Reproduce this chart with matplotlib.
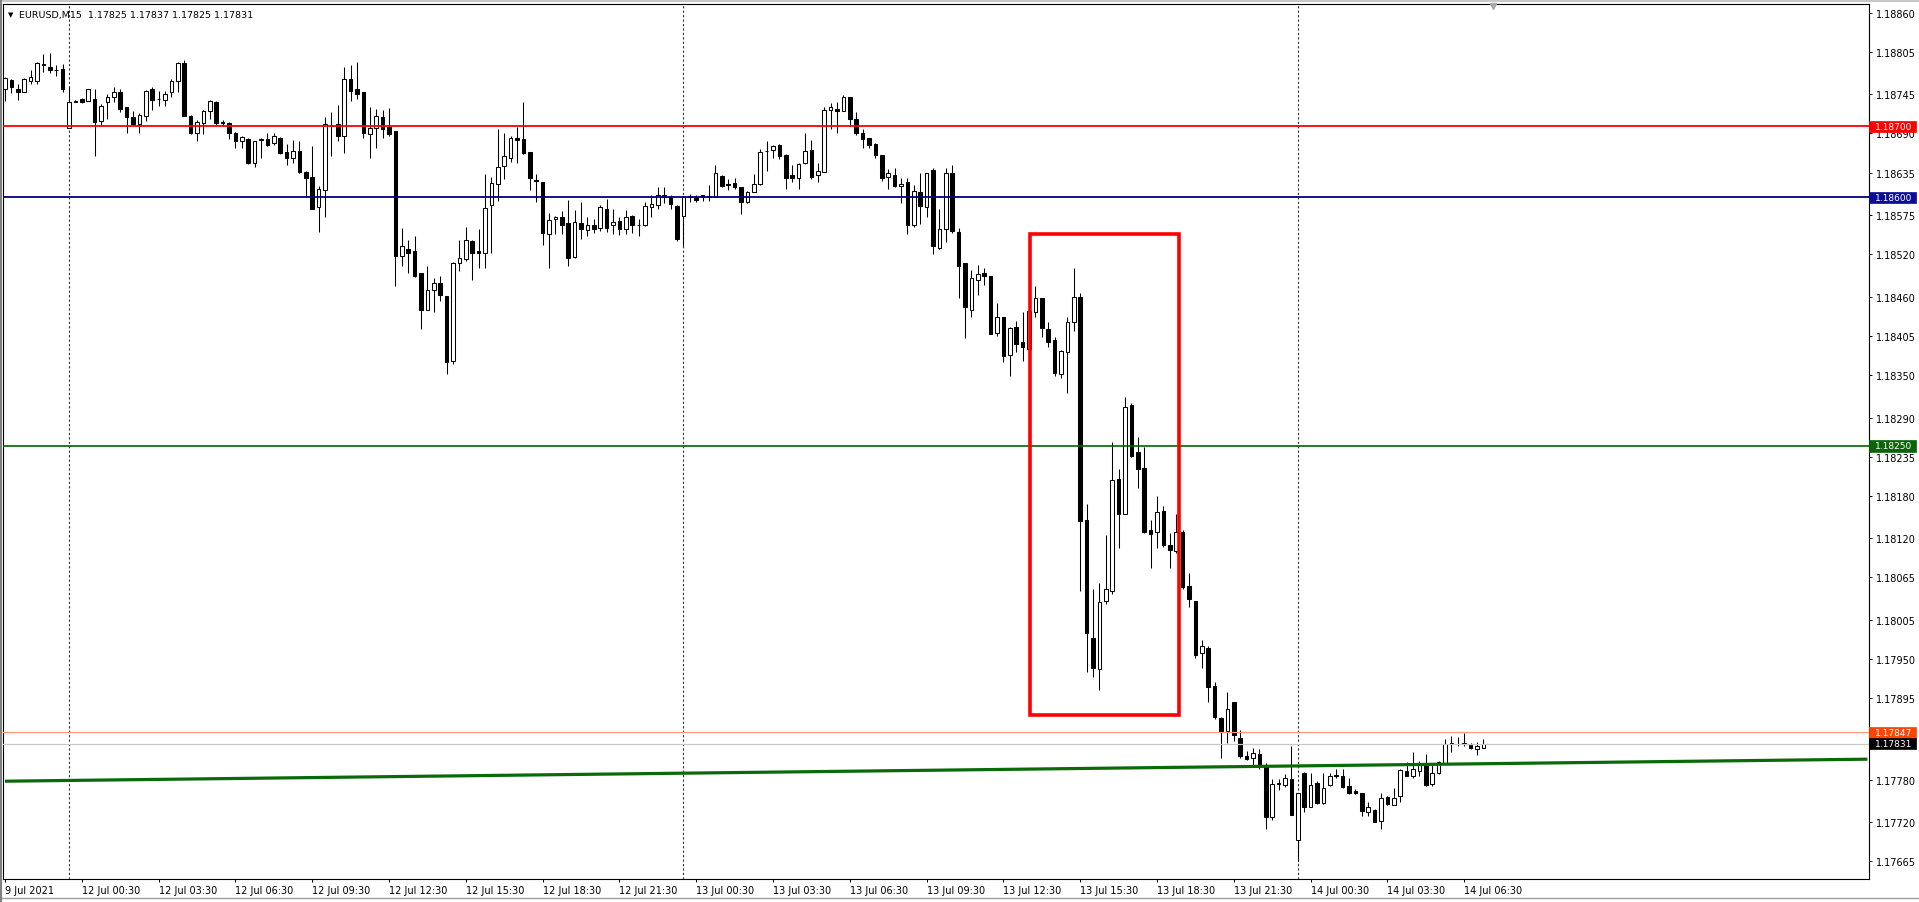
import matplotlib
matplotlib.use('Agg')
import matplotlib.pyplot as plt
import matplotlib.transforms as mtransforms
from matplotlib.patches import Rectangle
import pandas as pd

plt.rcParams['font.family'] = ['DejaVu Sans']

# EURUSD M15 candles
opens = [1.18752, 1.18765, 1.18753, 1.18748, 1.18764, 1.18764, 1.18788, 1.18784, 1.18780, 1.18781,
         1.18698, 1.18735, 1.18738, 1.18736, 1.18738, 1.18708, 1.18734, 1.18741, 1.18749, 1.18727,
         1.18713, 1.18703, 1.18714, 1.18753, 1.18738, 1.18737, 1.18748, 1.18764, 1.18789, 1.18715,
         1.18690, 1.18705, 1.18722, 1.18735, 1.18706, 1.18705, 1.18691, 1.18679, 1.18682, 1.18648,
         1.18681, 1.18682, 1.18676, 1.18684, 1.18664, 1.18655, 1.18666, 1.18636, 1.18629, 1.18587,
         1.18611, 1.18702, 1.18703, 1.18687, 1.18766, 1.18753, 1.18748, 1.18689, 1.18698, 1.18713,
         1.18699, 1.18693, 1.18518, 1.18528, 1.18525, 1.18493, 1.18442, 1.18470, 1.18480, 1.18461,
         1.18369, 1.18507, 1.18513, 1.18539, 1.18525, 1.18522, 1.18589, 1.18619, 1.18644, 1.18656,
         1.18683, 1.18682, 1.18664, 1.18624, 1.18621, 1.18549, 1.18569, 1.18573, 1.18564, 1.18516,
         1.18564, 1.18554, 1.18561, 1.18557, 1.18584, 1.18561, 1.18567, 1.18556, 1.18574, 1.18561,
         1.18561, 1.18587, 1.18589, 1.18603, 1.18600, 1.18588, 1.18574, 1.18600, 1.18600, 1.18603,
         1.18601, 1.18601, 1.18630, 1.18619, 1.18620, 1.18614, 1.18593, 1.18608, 1.18619, 1.18665,
         1.18667, 1.18674, 1.18660, 1.18631, 1.18627, 1.18648, 1.18667, 1.18632, 1.18636, 1.18723,
         1.18725, 1.18722, 1.18742, 1.18710, 1.18691, 1.18683, 1.18675, 1.18659, 1.18629, 1.18632,
         1.18616, 1.18621, 1.18561, 1.18608, 1.18587, 1.18639, 1.18529, 1.18555, 1.18634, 1.18551,
         1.18507, 1.18442, 1.18484, 1.18493, 1.18489, 1.18409, 1.18432, 1.18378, 1.18417, 1.18396,
         1.18387, 1.18439, 1.18458, 1.18414, 1.18399, 1.18352, 1.18383, 1.18425, 1.18460, 1.18146,
         1.17979, 1.17936, 1.18032, 1.18046, 1.18204, 1.18154, 1.18308, 1.18241, 1.18219, 1.18131,
         1.18129, 1.18159, 1.18111, 1.18102, 1.18129, 1.18053, 1.18032, 1.17959, 1.17966, 1.17912,
         1.17867, 1.17849, 1.17889, 1.17839, 1.17813, 1.17810, 1.17817, 1.17800, 1.17727, 1.17774,
         1.17772, 1.17781, 1.17695, 1.17790, 1.17742, 1.17775, 1.17747, 1.17772, 1.17786, 1.17786,
         1.17771, 1.17764, 1.17762, 1.17735, 1.17738, 1.17722, 1.17756, 1.17745, 1.17757, 1.17793,
         1.17786, 1.17793, 1.17804, 1.17774, 1.17789, 1.17804, 1.17831, 1.17831, 1.17832, 1.17830,
         1.17824, 1.17825]
highs = [1.18769, 1.18767, 1.18760, 1.18768, 1.18779, 1.18791, 1.18802, 1.18804, 1.18786, 1.18788,
         1.18756, 1.18737, 1.18740, 1.18753, 1.18752, 1.18731, 1.18745, 1.18756, 1.18753, 1.18727,
         1.18722, 1.18719, 1.18751, 1.18755, 1.18750, 1.18750, 1.18767, 1.18791, 1.18794, 1.18716,
         1.18709, 1.18723, 1.18737, 1.18736, 1.18709, 1.18706, 1.18692, 1.18687, 1.18683, 1.18680,
         1.18684, 1.18690, 1.18691, 1.18685, 1.18675, 1.18681, 1.18680, 1.18637, 1.18673, 1.18616,
         1.18713, 1.18720, 1.18730, 1.18784, 1.18786, 1.18790, 1.18749, 1.18727, 1.18725, 1.18723,
         1.18726, 1.18694, 1.18557, 1.18540, 1.18546, 1.18493, 1.18504, 1.18486, 1.18489, 1.18461,
         1.18509, 1.18540, 1.18559, 1.18540, 1.18556, 1.18633, 1.18629, 1.18696, 1.18690, 1.18687,
         1.18699, 1.18734, 1.18664, 1.18633, 1.18621, 1.18578, 1.18574, 1.18581, 1.18597, 1.18582,
         1.18594, 1.18572, 1.18569, 1.18589, 1.18598, 1.18583, 1.18572, 1.18582, 1.18575, 1.18569,
         1.18593, 1.18604, 1.18614, 1.18614, 1.18604, 1.18589, 1.18602, 1.18605, 1.18604, 1.18604,
         1.18617, 1.18645, 1.18631, 1.18626, 1.18628, 1.18614, 1.18609, 1.18633, 1.18668, 1.18680,
         1.18674, 1.18675, 1.18661, 1.18645, 1.18648, 1.18690, 1.18681, 1.18649, 1.18727, 1.18733,
         1.18734, 1.18744, 1.18742, 1.18720, 1.18697, 1.18684, 1.18676, 1.18659, 1.18640, 1.18641,
         1.18628, 1.18628, 1.18617, 1.18635, 1.18635, 1.18641, 1.18583, 1.18641, 1.18645, 1.18557,
         1.18507, 1.18498, 1.18505, 1.18501, 1.18490, 1.18451, 1.18432, 1.18417, 1.18426, 1.18439,
         1.18445, 1.18475, 1.18459, 1.18425, 1.18404, 1.18385, 1.18432, 1.18501, 1.18465, 1.18168,
         1.18048, 1.18057, 1.18124, 1.18256, 1.18217, 1.18319, 1.18311, 1.18263, 1.18249, 1.18146,
         1.18179, 1.18166, 1.18128, 1.18154, 1.18131, 1.18071, 1.18032, 1.17977, 1.17968, 1.17917,
         1.17869, 1.17903, 1.17889, 1.17850, 1.17821, 1.17825, 1.17824, 1.17803, 1.17781, 1.17781,
         1.17788, 1.17828, 1.17762, 1.17791, 1.17789, 1.17778, 1.17789, 1.17789, 1.17795, 1.17795,
         1.17782, 1.17767, 1.17762, 1.17749, 1.17739, 1.17761, 1.17757, 1.17769, 1.17795, 1.17805,
         1.17819, 1.17807, 1.17817, 1.17803, 1.17807, 1.17837, 1.17841, 1.17840, 1.17846, 1.17832,
         1.17833, 1.17837]
lows = [1.18736, 1.18747, 1.18737, 1.18748, 1.18760, 1.18760, 1.18776, 1.18775, 1.18771, 1.18748,
        1.18698, 1.18734, 1.18733, 1.18736, 1.18658, 1.18701, 1.18710, 1.18734, 1.18720, 1.18690,
        1.18702, 1.18691, 1.18708, 1.18723, 1.18729, 1.18729, 1.18741, 1.18748, 1.18714, 1.18689,
        1.18680, 1.18689, 1.18710, 1.18702, 1.18700, 1.18682, 1.18669, 1.18670, 1.18647, 1.18643,
        1.18656, 1.18673, 1.18674, 1.18661, 1.18645, 1.18649, 1.18635, 1.18600, 1.18584, 1.18551,
        1.18572, 1.18658, 1.18680, 1.18663, 1.18736, 1.18738, 1.18683, 1.18656, 1.18670, 1.18683,
        1.18687, 1.18475, 1.18504, 1.18494, 1.18488, 1.18414, 1.18441, 1.18439, 1.18454, 1.18352,
        1.18365, 1.18496, 1.18510, 1.18483, 1.18501, 1.18501, 1.18522, 1.18595, 1.18626, 1.18650,
        1.18648, 1.18661, 1.18611, 1.18593, 1.18533, 1.18501, 1.18548, 1.18548, 1.18503, 1.18515,
        1.18542, 1.18546, 1.18550, 1.18553, 1.18551, 1.18549, 1.18547, 1.18548, 1.18550, 1.18546,
        1.18560, 1.18572, 1.18583, 1.18592, 1.18584, 1.18539, 1.18532, 1.18593, 1.18594, 1.18595,
        1.18595, 1.18601, 1.18615, 1.18611, 1.18612, 1.18576, 1.18592, 1.18607, 1.18618, 1.18637,
        1.18655, 1.18654, 1.18612, 1.18622, 1.18612, 1.18647, 1.18626, 1.18622, 1.18636, 1.18696,
        1.18690, 1.18721, 1.18701, 1.18688, 1.18670, 1.18670, 1.18656, 1.18623, 1.18612, 1.18614,
        1.18592, 1.18548, 1.18559, 1.18562, 1.18572, 1.18520, 1.18528, 1.18537, 1.18550, 1.18459,
        1.18402, 1.18432, 1.18462, 1.18477, 1.18407, 1.18405, 1.18368, 1.18348, 1.18382, 1.18369,
        1.18386, 1.18432, 1.18403, 1.18390, 1.18348, 1.18346, 1.18324, 1.18412, 1.18046, 1.17932,
        1.17925, 1.17907, 1.18027, 1.18041, 1.18107, 1.18154, 1.18235, 1.18191, 1.18128, 1.18078,
        1.18107, 1.18108, 1.18078, 1.18100, 1.18049, 1.18023, 1.17952, 1.17938, 1.17890, 1.17865,
        1.17810, 1.17832, 1.17835, 1.17810, 1.17808, 1.17800, 1.17795, 1.17711, 1.17724, 1.17766,
        1.17770, 1.17730, 1.17666, 1.17734, 1.17741, 1.17746, 1.17746, 1.17771, 1.17782, 1.17769,
        1.17760, 1.17760, 1.17729, 1.17729, 1.17720, 1.17710, 1.17744, 1.17744, 1.17749, 1.17785,
        1.17783, 1.17785, 1.17771, 1.17771, 1.17788, 1.17803, 1.17819, 1.17827, 1.17828, 1.17823,
        1.17815, 1.17825]
closes = [1.18768, 1.18755, 1.18749, 1.18767, 1.18769, 1.18789, 1.18786, 1.18780, 1.18779, 1.18753,
          1.18735, 1.18736, 1.18735, 1.18752, 1.18706, 1.18728, 1.18741, 1.18748, 1.18725, 1.18713,
          1.18703, 1.18716, 1.18750, 1.18737, 1.18738, 1.18745, 1.18764, 1.18789, 1.18715, 1.18690,
          1.18706, 1.18722, 1.18736, 1.18705, 1.18705, 1.18690, 1.18680, 1.18685, 1.18648, 1.18679,
          1.18682, 1.18674, 1.18686, 1.18663, 1.18656, 1.18665, 1.18636, 1.18627, 1.18584, 1.18612,
          1.18703, 1.18701, 1.18686, 1.18767, 1.18750, 1.18745, 1.18690, 1.18698, 1.18714, 1.18697,
          1.18689, 1.18518, 1.18531, 1.18522, 1.18489, 1.18441, 1.18470, 1.18479, 1.18462, 1.18368,
          1.18508, 1.18514, 1.18540, 1.18522, 1.18522, 1.18585, 1.18620, 1.18643, 1.18658, 1.18683,
          1.18681, 1.18663, 1.18627, 1.18623, 1.18550, 1.18568, 1.18572, 1.18561, 1.18515, 1.18565,
          1.18555, 1.18561, 1.18556, 1.18587, 1.18557, 1.18565, 1.18555, 1.18572, 1.18561, 1.18561,
          1.18588, 1.18590, 1.18604, 1.18601, 1.18590, 1.18542, 1.18601, 1.18602, 1.18597, 1.18601,
          1.18602, 1.18634, 1.18616, 1.18617, 1.18614, 1.18593, 1.18608, 1.18619, 1.18664, 1.18666,
          1.18673, 1.18658, 1.18628, 1.18628, 1.18647, 1.18666, 1.18629, 1.18637, 1.18723, 1.18727,
          1.18722, 1.18741, 1.18711, 1.18691, 1.18682, 1.18674, 1.18659, 1.18628, 1.18634, 1.18616,
          1.18619, 1.18561, 1.18609, 1.18588, 1.18634, 1.18531, 1.18555, 1.18635, 1.18553, 1.18504,
          1.18446, 1.18486, 1.18492, 1.18489, 1.18407, 1.18432, 1.18377, 1.18416, 1.18394, 1.18389,
          1.18440, 1.18458, 1.18416, 1.18397, 1.18353, 1.18384, 1.18424, 1.18460, 1.18144, 1.17987,
          1.17937, 1.18031, 1.18048, 1.18202, 1.18154, 1.18305, 1.18236, 1.18217, 1.18129, 1.18126,
          1.18157, 1.18110, 1.18103, 1.18129, 1.18051, 1.18034, 1.17955, 1.17969, 1.17911, 1.17868,
          1.17847, 1.17880, 1.17843, 1.17814, 1.17809, 1.17818, 1.17800, 1.17727, 1.17774, 1.17775,
          1.17782, 1.17731, 1.17761, 1.17742, 1.17773, 1.17747, 1.17769, 1.17786, 1.17787, 1.17770,
          1.17761, 1.17761, 1.17736, 1.17741, 1.17721, 1.17755, 1.17746, 1.17755, 1.17794, 1.17786,
          1.17795, 1.17801, 1.17772, 1.17790, 1.17805, 1.17831, 1.17832, 1.17831, 1.17831, 1.17825,
          1.17827, 1.17831]

# bar times: friday evening, then monday onwards
times = pd.date_range('2021-07-09 21:30', periods=10, freq='15min').append(
    pd.date_range('2021-07-12 00:00', periods=222, freq='15min'))

title = "EURUSD,M15  1.17825 1.17837 1.17825 1.17831"
# 1.17840 sits under the level labels in the screenshot, so it is left out
price_ticks = [1.18860, 1.18805, 1.18745, 1.18690, 1.18635, 1.18575, 1.18520, 1.18460,
               1.18405, 1.18350, 1.18290, 1.18235, 1.18180, 1.18120, 1.18065, 1.18005,
               1.17950, 1.17895, 1.17780, 1.17720, 1.17665]

# horizontal level objects: price, line colour, label colour, width
levels = [(1.18700, '#ff0000', '#ff0000', 1.3),
          (1.18600, '#00007a', '#0c0c96', 1.3),
          (1.18250, '#006400', '#0a640a', 1.2),
          (1.17847, '#ff9a7a', '#ff4500', 0.9),
          (1.17831, '#c8c8c8', '#000000', 0.9)]

trend_bars = [0, 291]
trend_prices = [1.17778, 1.17809]

box_bars = [160.2, 183.5]
box_prices = [1.17871, 1.18548]

W, H = 1919, 903
fig = plt.figure(figsize=(W / 100, H / 100), dpi=100)
fig.patch.set_facecolor('white')
ax = fig.add_axes([3 / W, 1 - 880 / H, 1866 / W, 875 / H])
ax.set_facecolor('white')

n = len(opens)
xs = list(range(n))

# wicks
ax.vlines(xs, lows, highs, color='black', linewidth=0.75, zorder=2)

# bodies
for i in xs:
    o, c = opens[i], closes[i]
    bull = c >= o
    ax.bar(i, abs(c - o), bottom=min(o, c), width=0.56,
           facecolor='white' if bull else 'black', edgecolor='black',
           linewidth=0.75, zorder=3)

# day separators
for i, t in enumerate(times):
    if t.hour == 0 and t.minute == 0:
        ax.axvline(i, color='#303030', linewidth=0.8, linestyle=(0, (2, 2)), zorder=1)

# horizontal lines + right hand labels
lab_tr = mtransforms.blended_transform_factory(ax.transAxes, ax.transData)
for price, lc, bc, lw in levels:
    ax.axhline(price, color=lc, linewidth=lw, zorder=4)
    ax.add_patch(Rectangle((1.0, price - 0.000078), 47 / 1866, 0.000156, transform=lab_tr,
                           facecolor=bc, edgecolor=bc, linewidth=0.5, clip_on=False, zorder=9))
    ax.text(1.0 + 6 / 1866, price, f"{price:.5f}", transform=lab_tr, color='white',
            fontsize=6.5, va='center', ha='left', clip_on=False, zorder=10)

# trend line
ax.plot(trend_bars, trend_prices, color='#0a6a0a', linewidth=2.3, zorder=4,
        solid_capstyle='butt')

# red box
ax.add_patch(Rectangle((box_bars[0], box_prices[0]), box_bars[1] - box_bars[0],
                       box_prices[1] - box_prices[0], fill=False, edgecolor='#ff0000',
                       linewidth=2.6, zorder=5))

ax.set_xlim(-0.31, 291.25)
ax.set_ylim(1.176403, 1.188723)

# time axis
tick_pos = [0]
tick_lab = ["9 Jul 2021"]
for i, t in enumerate(times):
    if i > 0 and t.minute == 30 and t.hour % 3 == 0:
        tick_pos.append(i)
        tick_lab.append(f"{t.day} {t.strftime('%b')} {t.strftime('%H:%M')}")
ax.set_xticks(tick_pos)
ax.set_xticklabels(tick_lab)
shift = mtransforms.ScaledTranslation(2 / 100, 0, fig.dpi_scale_trans)
for lab in ax.get_xticklabels():
    lab.set_ha('left')
    lab.set_transform(lab.get_transform() + shift)

ax.yaxis.tick_right()
ax.set_yticks(price_ticks)
ax.set_yticklabels([f"{p:.5f}" for p in price_ticks])
ax.tick_params(axis='both', direction='out', length=2.5, width=0.7, labelsize=7,
               colors='black', pad=2.5)
ax.tick_params(axis='x', pad=2)

for s in ax.spines.values():
    s.set_color('black')
    s.set_linewidth(0.8)

# title, chart shift marker
ax.text(5 / 1866, 1 - 10 / 875, "\u25bc", transform=ax.transAxes, fontsize=5,
        va='center', ha='left', zorder=10)
ax.text(16 / 1866, 1 - 10 / 875, title, transform=ax.transAxes, fontsize=6.8,
        va='center', ha='left', zorder=10)
ax.plot([232.5], [1.18870], marker='v', color='#a8a8a8', markersize=4, clip_on=False, zorder=10)

# window frame bits
fig.add_artist(plt.Line2D([0, 1], [1 - 2 / H, 1 - 2 / H], color='#c8c8c8', linewidth=1.5))
fig.add_artist(plt.Line2D([0, 1], [1 - 899 / H, 1 - 899 / H], color='#a0a0a0', linewidth=1.0))
fig.add_artist(plt.Line2D([1 / W, 1 / W], [0, 1], color='#808080', linewidth=1.5))

fig.savefig('out.png', dpi=100)
